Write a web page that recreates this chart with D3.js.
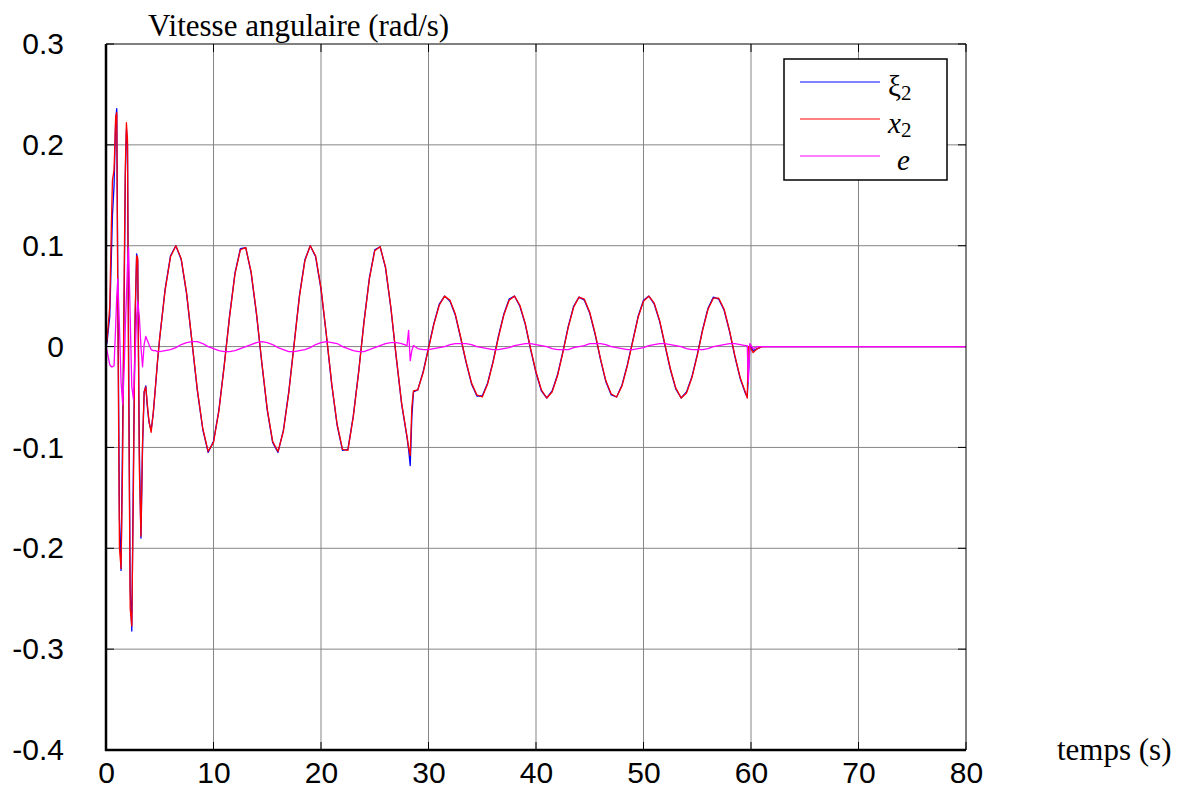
<!DOCTYPE html>
<html>
<head>
<meta charset="utf-8">
<script src="https://cdn.jsdelivr.net/npm/d3@7"></script>
<style>
  body { margin: 0; background: #fff; }
  svg { display: block; }
</style>
</head>
<body>
<div id="chart"></div>
<script>
// Dimensions
const width = 1191;
const height = 792;

// Axis ticks
const xTicks = [0, 10, 20, 30, 40, 50, 60, 70, 80];
const yTicks = [0.3, 0.2, 0.1, 0, -0.1, -0.2, -0.3, -0.4];
const yTickLabels = ["0.3", "0.2", "0.1", "0", "-0.1", "-0.2", "-0.3", "-0.4"];

// Start-up transient (0 - 4.8 s)
const tTransient = [0, 0.1, 0.2, 0.35, 0.5, 0.6, 0.75, 0.9, 1.0, 1.1, 1.25, 1.4, 1.55, 1.7, 1.8, 1.9, 2.0, 2.1, 2.25, 2.4,
  2.55, 2.7, 2.85, 2.95, 3.1, 3.25, 3.4, 3.55, 3.7, 3.85, 4.0, 4.2, 4.4, 4.6, 4.8];
const xi2Transient = [0, 0.004, 0.015, 0.03, 0.09, 0.13, 0.16, 0.225, 0.236, 0.06, -0.17, -0.222, -0.08, 0.06, 0.17, 0.215, 0.2, 0.0, -0.24, -0.282,
  -0.12, 0.02, 0.092, 0.085, -0.1, -0.19, -0.1, -0.045, -0.039, -0.06, -0.075, -0.083, -0.066, -0.04, -0.014];
const x2Transient = [0, 0.008, 0.02, 0.04, 0.12, 0.165, 0.175, 0.228, 0.232, 0.04, -0.2, -0.22, -0.11, 0.08, 0.18, 0.222, 0.205, -0.03, -0.26, -0.277,
  -0.14, 0.03, 0.09, 0.088, -0.12, -0.188, -0.095, -0.045, -0.04, -0.058, -0.074, -0.085, -0.065, -0.04, -0.013];
const eTransient = [0, -0.004, -0.01, -0.018, -0.02, -0.02, -0.019, 0.02, 0.05, 0.067, 0.02, -0.035, -0.057, -0.02, 0.02, 0.05, 0.08, 0.098, 0.03, -0.04,
  -0.052, -0.01, 0.03, 0.045, 0.03, 0.0, -0.02, 0.002, 0.01, 0.006, 0.002, -0.003, -0.004, -0.004, -0.005];

// Tracking phase (5 s - 80 s)
const tMain = [5.0, 5.5, 6.0, 6.5, 7.0, 7.5, 8.0, 8.5, 9.0, 9.5, 10.0, 10.5, 11.0, 11.5, 12.0, 12.5, 13.0, 13.5, 14.0, 14.5,
  15.0, 15.5, 16.0, 16.5, 17.0, 17.5, 18.0, 18.5, 19.0, 19.5, 20.0, 20.5, 21.0, 21.5, 22.0, 22.5, 23.0, 23.5, 24.0, 24.5,
  25.0, 25.5, 26.0, 26.5, 27.0, 27.5, 28.0, 28.15, 28.3, 28.45, 28.6,
  29.0, 29.5, 30.0, 30.5, 31.0, 31.5, 32.0, 32.5, 33.0, 33.5, 34.0, 34.5, 35.0, 35.5, 36.0, 36.5, 37.0, 37.5, 38.0, 38.5,
  39.0, 39.5, 40.0, 40.5, 41.0, 41.5, 42.0, 42.5, 43.0, 43.5, 44.0, 44.5, 45.0, 45.5, 46.0, 46.5, 47.0, 47.5, 48.0, 48.5,
  49.0, 49.5, 50.0, 50.5, 51.0, 51.5, 52.0, 52.5, 53.0, 53.5, 54.0, 54.5, 55.0, 55.5, 56.0, 56.5, 57.0, 57.5, 58.0, 58.5,
  59.0, 59.5, 59.65, 59.75, 59.9, 60.2, 60.6, 61.0, 80];
const x2Main = [0.009, 0.056, 0.089, 0.100, 0.087, 0.053, 0.005, -0.043, -0.081, -0.104, -0.095, -0.064, -0.019, 0.030, 0.072, 0.096, 0.098, 0.074, 0.033, -0.016,
  -0.062, -0.094, -0.104, -0.084, -0.046, 0.002, 0.050, 0.085, 0.100, 0.090, 0.058, 0.012, -0.037, -0.077, -0.102, -0.103, -0.070, -0.026, 0.024, 0.067,
  0.095, 0.099, 0.079, 0.039, -0.010, -0.056, -0.089, -0.100, -0.108, -0.060, -0.044,
  -0.043, -0.026, -0.002, 0.022, 0.041, 0.050, 0.046, 0.032, 0.009, -0.015, -0.036, -0.048, -0.050, -0.037, -0.016, 0.009, 0.031, 0.046, 0.050, 0.041,
  0.023, -0.002, -0.025, -0.043, -0.051, -0.045, -0.029, -0.006, 0.019, 0.039, 0.049, 0.047, 0.034, 0.013, -0.012, -0.034, -0.047, -0.050, -0.039, -0.019,
  0.005, 0.029, 0.045, 0.050, 0.043, 0.026, 0.002, -0.022, -0.041, -0.051, -0.046, -0.031, -0.009, 0.016, 0.037, 0.048, 0.048, 0.037, 0.016, -0.009,
  -0.031, -0.046, -0.051, 0.0, 0.0, -0.006, -0.002, 0.0, 0.0];
const xi2Main = [0.009, 0.057, 0.090, 0.100, 0.086, 0.052, 0.004, -0.044, -0.082, -0.105, -0.094, -0.063, -0.018, 0.031, 0.073, 0.097, 0.098, 0.073, 0.032, -0.017,
  -0.063, -0.095, -0.105, -0.083, -0.045, 0.003, 0.051, 0.086, 0.100, 0.089, 0.057, 0.011, -0.038, -0.078, -0.103, -0.102, -0.069, -0.025, 0.025, 0.068,
  0.096, 0.099, 0.078, 0.038, -0.011, -0.057, -0.090, -0.102, -0.118, -0.070, -0.045,
  -0.043, -0.025, -0.001, 0.023, 0.042, 0.050, 0.045, 0.031, 0.008, -0.016, -0.037, -0.049, -0.049, -0.036, -0.015, 0.010, 0.032, 0.047, 0.050, 0.040,
  0.022, -0.003, -0.026, -0.044, -0.051, -0.044, -0.028, -0.005, 0.020, 0.040, 0.049, 0.046, 0.033, 0.012, -0.013, -0.035, -0.048, -0.050, -0.038, -0.018,
  0.006, 0.030, 0.046, 0.050, 0.042, 0.025, 0.001, -0.023, -0.042, -0.051, -0.045, -0.030, -0.008, 0.017, 0.038, 0.049, 0.047, 0.036, 0.015, -0.010,
  -0.032, -0.047, -0.050, -0.030, 0.002, -0.004, -0.002, 0.0, 0.0];
const eMain = [-0.005, -0.004, -0.003, -0.001, 0.002, 0.004, 0.005, 0.005, 0.003, 0.000, -0.002, -0.004, -0.005, -0.005, -0.004, -0.002, 0.000, 0.002, 0.004, 0.005,
  0.004, 0.002, -0.001, -0.003, -0.005, -0.005, -0.004, -0.003, -0.001, 0.002, 0.004, 0.005, 0.004, 0.003, 0.000, -0.002, -0.004, -0.005, -0.005, -0.003,
  -0.001, 0.001, 0.003, 0.004, 0.004, 0.003, 0.001, 0.016, -0.014, -0.004, 0.001,
  -0.002, -0.003, -0.003, -0.002, -0.001, 0.000, 0.002, 0.003, 0.003, 0.003, 0.002, 0.000, -0.001, -0.002, -0.003, -0.003, -0.002, -0.001, 0.001, 0.002,
  0.003, 0.003, 0.002, 0.001, 0.000, -0.002, -0.003, -0.003, -0.003, -0.001, 0.000, 0.001, 0.003, 0.003, 0.003, 0.002, 0.000, -0.001, -0.002, -0.003,
  -0.003, -0.002, -0.001, 0.001, 0.002, 0.003, 0.003, 0.002, 0.001, 0.000, -0.002, -0.003, -0.003, -0.003, -0.002, 0.000, 0.001, 0.002, 0.003, 0.003,
  0.002, 0.001, 0.001, -0.035, 0.003, -0.002, 0.0, 0.0, 0.0];

// Series definitions (drawn in this order)
const seriesNames = ["\u03be", "x", "e"];
const seriesColors = ["#0000ff", "#ff0000", "#ff00ff"];
const seriesValues = [
  xi2Transient.concat(xi2Main),
  x2Transient.concat(x2Main),
  eTransient.concat(eMain)
];
const time = tTransient.concat(tMain);

// Plot box
const plotLeft = 106, plotRight = 966, plotTop = 44, plotBottom = 750;

const svg = d3.select("#chart")
  .append("svg")
  .attr("width", width)
  .attr("height", height);

const x = d3.scaleLinear().domain([0, 80]).range([plotLeft, plotRight]);
const y = d3.scaleLinear().domain([-0.4, 0.3]).range([plotBottom, plotTop]);

// Grid
svg.append("g")
  .selectAll("line")
  .data(xTicks.slice(1, -1))
  .join("line")
  .attr("x1", d => x(d)).attr("x2", d => x(d))
  .attr("y1", plotTop).attr("y2", plotBottom)
  .attr("stroke", "#858585").attr("stroke-width", 1);

svg.append("g")
  .selectAll("line")
  .data(yTicks.slice(1, -1))
  .join("line")
  .attr("x1", plotLeft).attr("x2", plotRight)
  .attr("y1", d => y(d)).attr("y2", d => y(d))
  .attr("stroke", "#858585").attr("stroke-width", 1);

// Tick marks on all four sides (pointing in)
const tickLen = 8;
const tickG = svg.append("g").attr("stroke", "#000").attr("stroke-width", 1);
xTicks.forEach(d => {
  tickG.append("line").attr("x1", x(d)).attr("x2", x(d)).attr("y1", plotBottom).attr("y2", plotBottom - tickLen);
  tickG.append("line").attr("x1", x(d)).attr("x2", x(d)).attr("y1", plotTop).attr("y2", plotTop + tickLen);
});
yTicks.forEach(d => {
  tickG.append("line").attr("x1", plotLeft).attr("x2", plotLeft + tickLen).attr("y1", y(d)).attr("y2", y(d));
  tickG.append("line").attr("x1", plotRight).attr("x2", plotRight - tickLen).attr("y1", y(d)).attr("y2", y(d));
});

// Data lines
svg.append("clipPath").attr("id", "plot-clip")
  .append("rect").attr("x", plotLeft).attr("y", plotTop)
  .attr("width", plotRight - plotLeft).attr("height", plotBottom - plotTop);

const line = d3.line()
  .x((d, i) => x(time[i]))
  .y(d => y(d));

svg.append("g")
  .attr("clip-path", "url(#plot-clip)")
  .selectAll("path")
  .data(seriesValues)
  .join("path")
  .attr("d", line)
  .attr("fill", "none")
  .attr("stroke", (d, i) => seriesColors[i])
  .attr("stroke-width", 1.3)
  .attr("stroke-linejoin", "round");

// Frame: thin top/right, thick left/bottom
svg.append("line").attr("x1", plotLeft).attr("x2", plotRight).attr("y1", plotTop).attr("y2", plotTop)
  .attr("stroke", "#000").attr("stroke-width", 1);
svg.append("line").attr("x1", plotRight).attr("x2", plotRight).attr("y1", plotTop).attr("y2", plotBottom)
  .attr("stroke", "#000").attr("stroke-width", 1);
svg.append("line").attr("x1", plotLeft).attr("x2", plotLeft).attr("y1", plotTop).attr("y2", plotBottom + 1)
  .attr("stroke", "#000").attr("stroke-width", 2.5);
svg.append("line").attr("x1", plotLeft - 1).attr("x2", plotRight).attr("y1", plotBottom).attr("y2", plotBottom)
  .attr("stroke", "#000").attr("stroke-width", 2.5);

// Tick labels
const yAxis = svg.append("g")
  .attr("transform", `translate(${plotLeft},0)`)
  .call(d3.axisLeft(y).tickValues(yTicks).tickFormat((d, i) => yTickLabels[i]).tickSize(0).tickPadding(42));
const xAxis = svg.append("g")
  .attr("transform", `translate(0,${plotBottom})`)
  .call(d3.axisBottom(x).tickValues(xTicks).tickFormat(d3.format("d")).tickSize(0).tickPadding(12));
[yAxis, xAxis].forEach(g => {
  g.select(".domain").remove();
  g.selectAll("text")
    .attr("fill", "#000")
    .style("font-family", "'Liberation Sans', Arial, sans-serif")
    .style("font-size", "30px");
});

// Titles
svg.append("text")
  .attr("x", 148).attr("y", 36)
  .style("font-family", "'Liberation Serif', 'Times New Roman', serif")
  .style("font-size", "31px")
  .text("Vitesse angulaire (rad/s)");

svg.append("text")
  .attr("x", 1057).attr("y", 760)
  .style("font-family", "'Liberation Serif', 'Times New Roman', serif")
  .style("font-size", "31px")
  .text("temps (s)");

// Legend
const legend = svg.append("g");
legend.append("rect")
  .attr("x", 784).attr("y", 59).attr("width", 163).attr("height", 121)
  .attr("fill", "#fff").attr("stroke", "#000").attr("stroke-width", 1.5);

const legendRowY = [82, 119, 156];
seriesNames.forEach((name, i) => {
  legend.append("line")
    .attr("x1", 800).attr("x2", 880)
    .attr("y1", legendRowY[i]).attr("y2", legendRowY[i])
    .attr("stroke", seriesColors[i]).attr("stroke-width", 1);
  const t = legend.append("text")
    .attr("x", i === 2 ? 897 : 888)
    .attr("y", legendRowY[i] + 14)
    .style("font-family", "'Liberation Serif', 'Times New Roman', serif")
    .style("font-size", "29px")
    .style("font-style", i === 0 ? "normal" : "italic");
  t.append("tspan").text(name);
  if (i < 2) {
    t.append("tspan").attr("dy", 4).style("font-size", "21px").style("font-style", "normal").text("2");
  }
});
</script>
</body>
</html>
